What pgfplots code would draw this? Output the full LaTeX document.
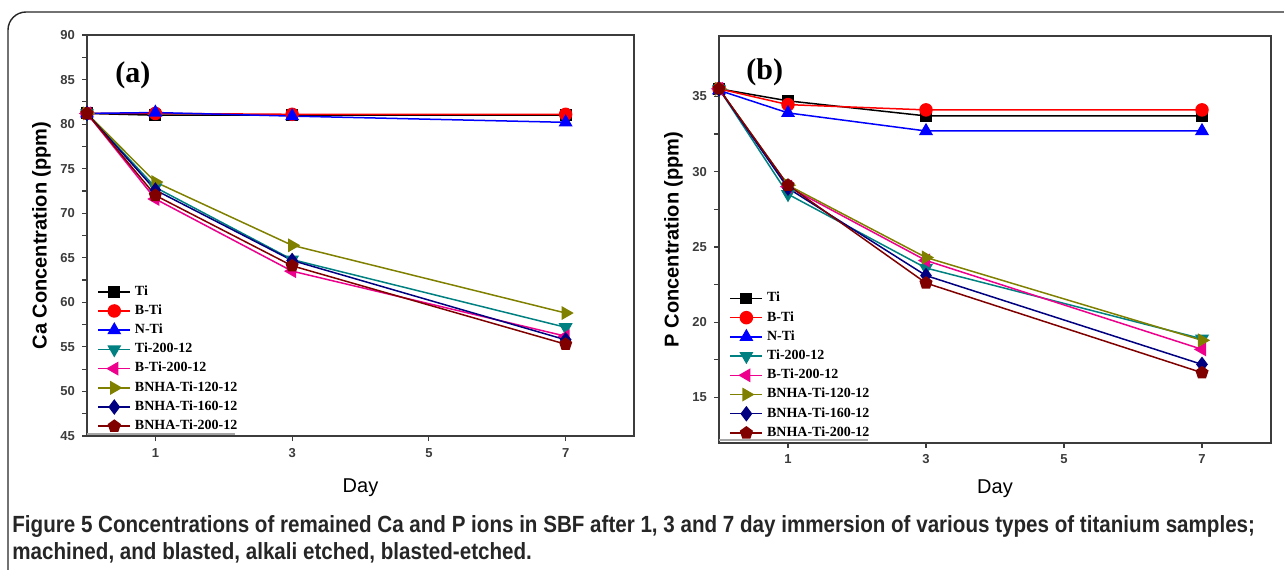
\documentclass[border=0pt]{standalone}
\usepackage{pgfplots}
\pgfplotsset{compat=1.18}
\usepackage{fontspec}
\setmainfont{Liberation Sans}
\newfontfamily\legfont{Liberation Serif}
\newfontfamily\capfont{Liberation Sans}[FakeStretch=0.88]
\definecolor{cteal}{RGB}{0,128,128}
\definecolor{colive}{RGB}{128,128,0}
\definecolor{cnavy}{RGB}{0,0,128}
\definecolor{cmaroon}{RGB}{128,0,0}
\definecolor{axgray}{RGB}{60,60,60}

\pgfplotsset{
  panel/.style={
    scale only axis, anchor=south west,
    xmin=0, xmax=8, xtick={1,3,5,7},
    tick align=outside, xtick pos=bottom, ytick pos=left,
    minor y tick num=1,
    axis line style={axgray, line width=0.8pt},
    major tick style={axgray, line width=0.6pt},
    minor tick style={axgray, line width=0.6pt},
    major tick length=2.5pt, minor tick length=2.5pt,
    tick label style={font=\fontsize{6.5}{7}\selectfont\bfseries, text=axgray},
    /pgf/number format/assume math mode=true,
    xlabel={Day},
    xlabel style={font=\fontsize{10}{11}\selectfont, yshift=-4pt},
    ylabel style={font=\fontsize{10}{11}\selectfont\bfseries, yshift=-2pt},
    every axis plot/.append style={line width=0.75pt, mark size=3pt},
    legend cell align=left,
    legend style={draw=none, fill=none, at={(0.015,0)}, anchor=south west,
      yshift=-1.5pt,
      font=\legfont\bfseries\fontsize{7}{7.5}\selectfont,
      row sep=-0.75pt, inner sep=1pt},
    legend image code/.code={
      \draw[mark repeat=2,mark phase=2] plot coordinates {(0cm,0cm) (0.28cm,0cm) (0.56cm,0cm)};},
  },
  s1/.style={black, mark=square*, mark size=2.6pt},
  s2/.style={red, mark=*},
  s3/.style={blue, mark=triangle*, mark size=3.3pt},
  s4/.style={cteal, mark=triangle*, mark size=3.3pt, mark options={rotate=180}},
  s5/.style={magenta, mark=triangle*, mark size=3.3pt, mark options={rotate=90}},
  s6/.style={colive, mark=triangle*, mark size=3.3pt, mark options={rotate=-90}},
  s7/.style={cnavy, mark=diamond*, mark size=3.3pt},
  s8/.style={cmaroon, mark=pentagon*},
}

\begin{document}
\begin{tikzpicture}
\useasboundingbox (0,0) rectangle (642pt,284.5pt);
\draw[black!85, line width=0.7pt, rounded corners=9pt] (4pt,-10pt) rectangle (660pt,278.5pt);

% (a) Ca
\begin{axis}[panel, at={(43.5pt,66.5pt)}, width=273.5pt, height=200.5pt,
  ymin=45, ymax=90, ytick={45,50,...,90},
  ylabel={Ca Concentration (ppm)}]
\addplot[s1] coordinates {(0,81.2) (1,81.0) (3,81.0) (7,81.0)};
\addplot[s2] coordinates {(0,81.2) (1,81.2) (3,81.1) (7,81.1)};
\addplot[s3] coordinates {(0,81.2) (1,81.3) (3,80.9) (7,80.2)};
\addplot[s4] coordinates {(0,81.2) (1,72.9) (3,64.8) (7,57.2)};
\addplot[s5] coordinates {(0,81.2) (1,71.6) (3,63.5) (7,56.2)};
\addplot[s6] coordinates {(0,81.2) (1,73.5) (3,66.4) (7,58.8)};
\addplot[s7] coordinates {(0,81.2) (1,72.6) (3,64.7) (7,55.8)};
\addplot[s8] coordinates {(0,81.2) (1,72.0) (3,64.1) (7,55.3)};
\legend{Ti,B-Ti,N-Ti,Ti-200-12,B-Ti-200-12,BNHA-Ti-120-12,BNHA-Ti-160-12,BNHA-Ti-200-12}
\node[font=\legfont\bfseries\fontsize{15}{16}\selectfont] at (rel axis cs:0.084,0.9) {(a)};
\draw[gray!70, line width=1pt] (rel axis cs:0,0.006) -- (rel axis cs:0.27,0.006);
\end{axis}

% (b) P
\begin{axis}[panel, at={(359.5pt,63.15pt)}, width=276pt, height=203.3pt,
  ymin=12, ymax=39, ytick={15,20,...,35},
  ylabel={P Concentration (ppm)},
  xlabel style={yshift=3pt}]
\addplot[s1] coordinates {(0,35.5) (1,34.7) (3,33.7) (7,33.7)};
\addplot[s2] coordinates {(0,35.5) (1,34.45) (3,34.1) (7,34.1)};
\addplot[s3] coordinates {(0,35.4) (1,33.9) (3,32.7) (7,32.7)};
\addplot[s4] coordinates {(0,35.5) (1,28.5) (3,23.6) (7,18.9)};
\addplot[s5] coordinates {(0,35.5) (1,29.0) (3,24.1) (7,18.2)};
\addplot[s6] coordinates {(0,35.5) (1,29.1) (3,24.3) (7,18.8)};
\addplot[s7] coordinates {(0,35.5) (1,28.9) (3,23.1) (7,17.2)};
\addplot[s8] coordinates {(0,35.5) (1,29.1) (3,22.6) (7,16.65)};
\legend{Ti,B-Ti,N-Ti,Ti-200-12,B-Ti-200-12,BNHA-Ti-120-12,BNHA-Ti-160-12,BNHA-Ti-200-12}
\node[font=\legfont\bfseries\fontsize{15}{16}\selectfont] at (rel axis cs:0.083,0.91) {(b)};
\draw[gray!70, line width=1pt] (rel axis cs:0,0.006) -- (rel axis cs:0.27,0.006);
\end{axis}

\node[anchor=base west, inner sep=0pt, font=\capfont\fontsize{11.7}{12}\selectfont\bfseries, text=black!85]
  at (6pt,18.5pt) {Figure 5 Concentrations of remained Ca and P ions in SBF after 1, 3 and 7 day immersion of various types of titanium samples;};
\node[anchor=base west, inner sep=0pt, font=\capfont\fontsize{11.7}{12}\selectfont\bfseries, text=black!85]
  at (6pt,5pt) {machined, and blasted, alkali etched, blasted-etched.};
\end{tikzpicture}
\end{document}
